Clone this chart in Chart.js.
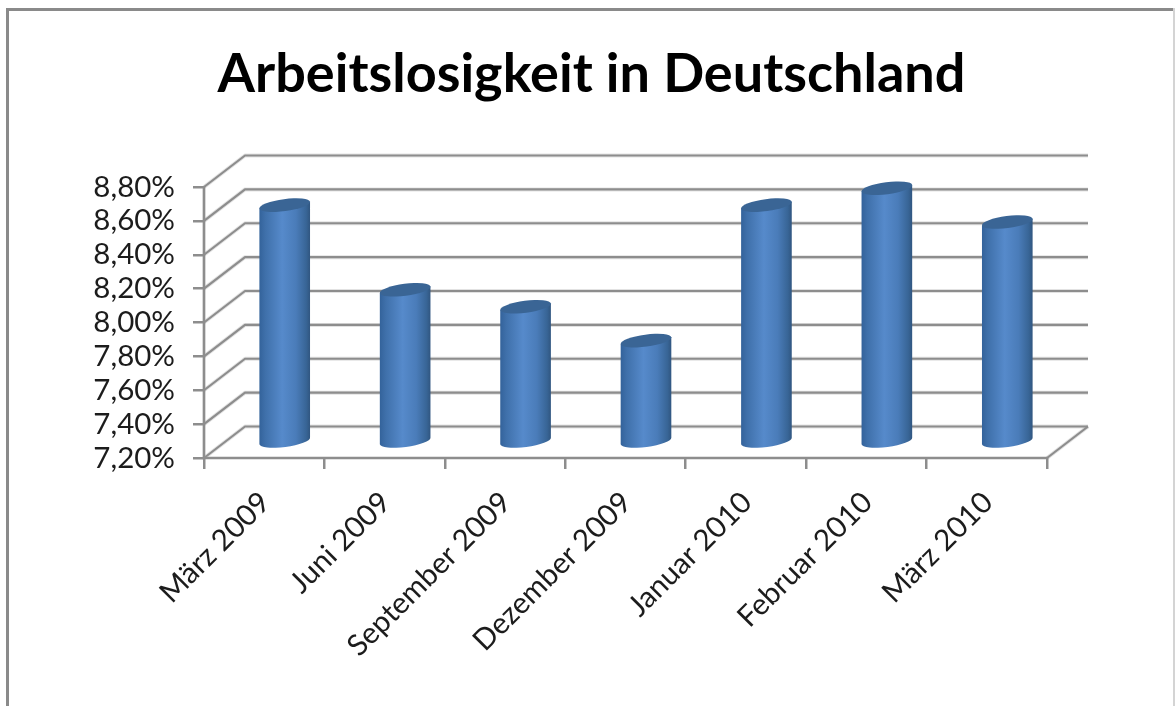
<!DOCTYPE html>
<html><head><meta charset="utf-8">
<style>html,body{margin:0;padding:0;background:#fff;overflow:hidden}canvas{display:block}</style>
<script src="https://cdn.jsdelivr.net/npm/chart.js@4"></script>
</head><body>
<canvas id="c" width="1175" height="706"></canvas>
<script>
const chartTitle = "Arbeitslosigkeit in Deutschland";
const categories = ["März 2009","Juni 2009","September 2009","Dezember 2009","Januar 2010","Februar 2010","März 2010"];
const rates = [8.6,8.1,8.0,7.8,8.6,8.7,8.5];
const axisMin = 7.2, axisMax = 8.8, axisStep = 0.2;

const DEPTH_X = 41, DEPTH_Y = -31.5;
const GRID = "#8d8d8d", TEXT = "#1c1c1c", FONT = "Lato, Carlito, sans-serif";

class CylinderElement extends Chart.BarElement {
  static id = "cylinder";
  draw(ctx) {
    const {x, y, base, width} = this.getProps(["x","y","base","width"], true);
    const cx = x + DEPTH_X/2, top = y + DEPTH_Y/2, bot = base + DEPTH_Y/2;
    const rx = width/2, ry = 6, rot = -0.13;
    const g = ctx.createLinearGradient(cx-rx,0,cx+rx,0);
    g.addColorStop(0,"#33629a"); g.addColorStop(0.12,"#3f70aa"); g.addColorStop(0.45,"#568acb");
    g.addColorStop(0.72,"#4a7cb9"); g.addColorStop(0.92,"#386596"); g.addColorStop(1,"#30557f");
    ctx.save();
    const dx = rx*Math.cos(rot), dy = rx*Math.sin(rot);
    ctx.beginPath();
    ctx.moveTo(cx-dx, top-dy);
    ctx.lineTo(cx-dx, bot-dy);
    ctx.ellipse(cx, bot, rx, ry, rot, Math.PI, 0, true);
    ctx.lineTo(cx+dx, top+dy);
    ctx.closePath();
    ctx.fillStyle = g; ctx.fill();
    ctx.beginPath();
    ctx.ellipse(cx, top, rx, ry, rot, 0, Math.PI*2);
    ctx.fillStyle = "#3a6595"; ctx.fill();
    ctx.restore();
  }
}
class CylinderController extends Chart.BarController {
  static id = "cylinderBar";
  static defaults = {...Chart.BarController.defaults, dataElementType:"cylinder"};
  static overrides = Chart.BarController.overrides;
}
Chart.register(CylinderElement, CylinderController);

function softLine(ctx, pts){
  ctx.lineJoin = "round";
  [[4,"rgba(150,150,150,0.28)"],[2.2,GRID]].forEach(([w,c])=>{
    ctx.beginPath();
    pts.forEach((p,i)=> i?ctx.lineTo(p[0],p[1]):ctx.moveTo(p[0],p[1]));
    ctx.lineWidth = w; ctx.strokeStyle = c; ctx.stroke();
  });
}
const wallsAndFrame = {
  id:"wallsAndFrame",
  beforeDraw(chart){
    const ctx = chart.ctx;
    ctx.save();
    ctx.fillStyle="#fff"; ctx.fillRect(0,0,chart.width,chart.height);
    ctx.fillStyle="#8a8a8a"; ctx.fillRect(7,8,1168,3); ctx.fillRect(6,8,3,698);
    ctx.fillStyle="#d4d4d4"; ctx.fillRect(1173,8,2,698);
    ctx.restore();
  },
  beforeDatasetsDraw(chart){
    const ctx = chart.ctx, a = chart.chartArea, ys = chart.scales.y;
    ctx.save();
    ys.ticks.forEach((t,i)=>{
      const y = ys.getPixelForTick(i);
      softLine(ctx, [[a.left,y],[a.left+DEPTH_X,y+DEPTH_Y],[a.right+DEPTH_X,y+DEPTH_Y]]);
    });
    softLine(ctx, [[a.right,a.bottom],[a.right+DEPTH_X,a.bottom+DEPTH_Y]]);
    softLine(ctx, [[a.left,a.top],[a.left,a.bottom],[a.right,a.bottom]]);
    ctx.restore();
  }
};

new Chart(document.getElementById("c"),{
  type:"cylinderBar",
  data:{labels:categories,datasets:[{label:"Arbeitslosigkeit",data:rates,base:axisMin,clip:false,barPercentage:0.424,categoryPercentage:1}]},
  plugins:[wallsAndFrame],
  options:{
    responsive:false,animation:false,
    layout:{padding:{left:8,right:0,top:0,bottom:0}},
    plugins:{
      legend:{display:false},tooltip:{enabled:false},
      title:{display:true,text:chartTitle,color:"#000",
        font:{family:FONT,size:54,weight:"bold",lineHeight:1},
        padding:{top:48,bottom:85}}
    },
    scales:{
      x:{
        afterFit(s){s.height=248;},
        grid:{drawOnChartArea:false,drawTicks:true,tickLength:11,color:GRID,lineWidth:2.5},
        border:{display:false},
        ticks:{color:TEXT,font:{family:FONT,size:29.5},minRotation:45,maxRotation:45,autoSkip:false,labelOffset:1,padding:16}
      },
      y:{
        min:axisMin,max:axisMax,
        afterFit(s){s.width=196;},
        afterBuildTicks(s){s.ticks=[];for(let i=0;i<=8;i++)s.ticks.push({value:+(axisMin+i*axisStep).toFixed(1)});},
        grid:{drawOnChartArea:false,drawTicks:true,tickLength:11,color:GRID,lineWidth:2.5},
        border:{display:false},
        ticks:{color:TEXT,font:{family:FONT,size:29.5},padding:18,stepSize:axisStep,autoSkip:false,
          callback:v=>v.toFixed(2).replace(".",",")+"%"}
      },
      yRight:{
        position:"right",display:true,
        afterFit(s){s.width=128;},
        grid:{display:false},border:{display:false},ticks:{display:false}
      }
    }
  }
});
</script>
</body></html>
